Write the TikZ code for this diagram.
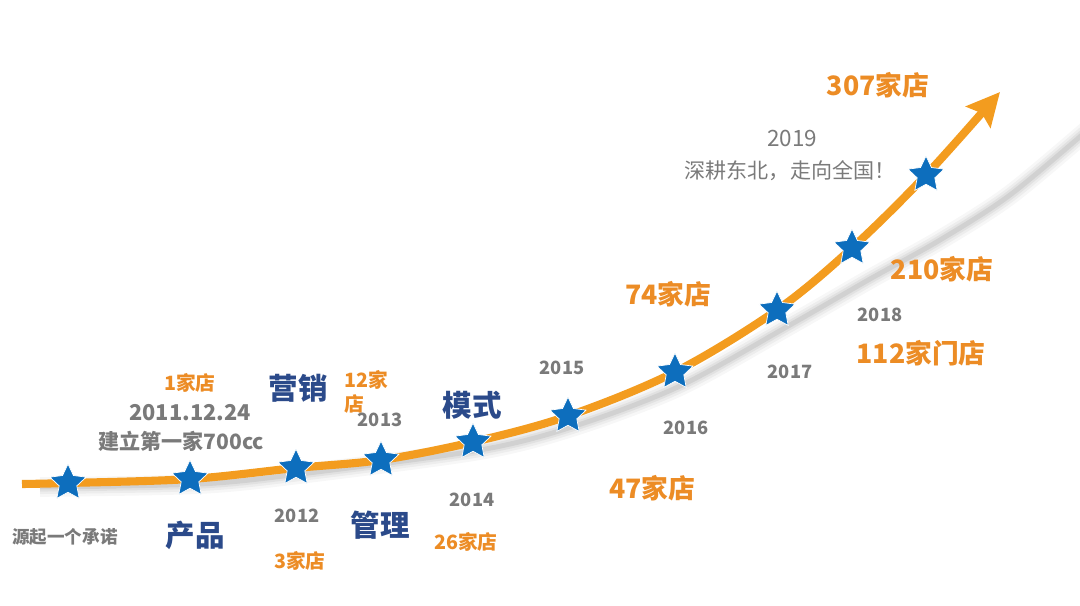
\documentclass[tikz,border=0pt]{standalone}
\usepackage{fontspec}
\setmainfont{Noto Sans CJK SC}
\usetikzlibrary{arrows.meta, shapes.geometric, backgrounds}

\definecolor{curveorange}{HTML}{F39C1F}
\definecolor{shoporange}{HTML}{EC8C25}
\definecolor{starblue}{HTML}{0D6EBD}
\definecolor{phaseblue}{HTML}{2B4A8A}
\definecolor{labelgray}{HTML}{7A7A7A}

\newcommand{\fsz}[1]{\fontsize{#1}{#1}\selectfont}

\begin{document}
\begin{tikzpicture}[x=0.05cm, y=-0.05cm,
    milestone/.style={star, star points=5, star point ratio=2.05, fill=starblue, draw=white, line width=1pt, minimum size=1.9cm, inner sep=0pt},
    year/.style={font=\bfseries\fsz{26}, text=labelgray},
    note/.style={font=\bfseries\fsz{31}, text=labelgray},
    shop/.style={font=\bfseries\fsz{28}, text=shoporange},
    bigshop/.style={font=\bfseries\fsz{38}, text=shoporange},
    phase/.style={font=\bfseries\fsz{42}, text=phaseblue},
    growth/.style={draw=curveorange, line width=11.5pt, -{Stealth[length=1.65cm, width=1.6cm, inset=0.25cm]}},
]
\useasboundingbox (0,0) rectangle (1080,605);

% stars along the curve
\coordinate (start) at (22,484);
\coordinate (tip) at (1000,92);
\node[milestone] (s1) at (68,483) {};
\node[milestone] (s2) at (190,479) {};
\node[milestone] (s3) at (296,468) {};
\node[milestone] (s4) at (381,460) {};
\node[milestone] (s5) at (473,442) {};
\node[milestone] (s6) at (568,416) {};
\node[milestone] (s7) at (675,372) {};
\node[milestone] (s8) at (777,310) {};
\node[milestone] (s9) at (852,248) {};
\node[milestone] (s10) at (926,175) {};

\begin{scope}[on background layer]
% soft shadow under the curve
\foreach \w/\o in {28/0.03, 20/0.04, 13/0.05, 7/0.07}
  \draw[line width=\w pt, black, opacity=\o]
    plot[smooth] coordinates {(40,487) (200,484) (300,474) (480,450) (575,426) (680,386) (790,325) (870,279) (940,240) (1010,195) (1090,128)};
% growth curve
\draw[growth] plot[smooth, tension=0.55] coordinates {(start) (s1.center) (s2.center) (s3.center) (s4.center) (s5.center) (s6.center) (s7.center) (s8.center) (s9.center) (s10.center) (tip)};
\end{scope}

% labels
\node[font=\bfseries\fsz{25}, text=labelgray] (origin) at (65,537) {源起一个承诺};
\node[phase] (product) at (195,535) {产品};
\node[shop] (shop2011) at (190,383) {1家店};
\node[note] (date2011) at (190,413) {2011.12.24};
\node[font=\bfseries\fsz{30}, text=labelgray] (first) at (181,441) {建立第一家700cc};
\node[phase] (marketing) at (298,388) {营销};
\node[year] (y2012) at (297,516) {2012};
\node[shop] (shop2012) at (300,561) {3家店};
\node[font=\bfseries\fontsize{28}{34}\selectfont, text=shoporange, align=left, anchor=north west, inner sep=0pt] (shop2013) at (344,370) {12家\\店};
\node[year] (y2013) at (380,420) {2013};
\node[phase] (manage) at (380,525) {管理};
\node[phase] (model) at (472,405) {模式};
\node[year] (y2014) at (472,500) {2014};
\node[shop] (shop2014) at (466,542) {26家店};
\node[year] (y2015) at (562,368) {2015};
\node[year] (y2016) at (686,428) {2016};
\node[bigshop] (shop2015) at (652,488) {47家店};
\node[bigshop] (shop2016) at (668,294) {74家店};
\node[year] (y2017) at (790,372) {2017};
\node[year] (y2018) at (880,315) {2018};
\node[bigshop] (shop2017) at (921,353) {112家门店};
\node[bigshop] (shop2018) at (942,269) {210家店};
\node[font=\fsz{32}, text=labelgray] (y2019) at (792,138) {2019};
\node[font=\fsz{30}, text=labelgray] (goal) at (790,171) {深耕东北，走向全国！};
\node[bigshop] (shop2019) at (878,85) {307家店};
\end{tikzpicture}
\end{document}
